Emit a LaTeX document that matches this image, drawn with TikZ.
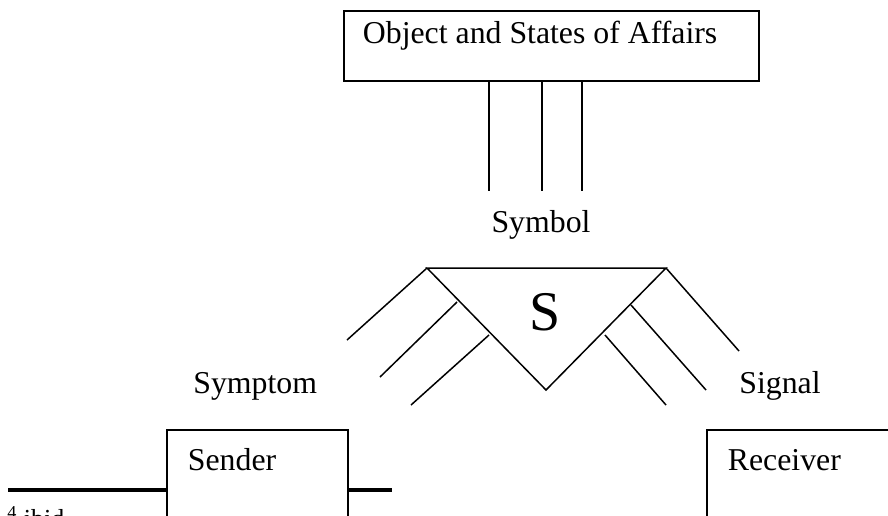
\documentclass[tikz,border=0pt]{standalone}
\usepackage{fontspec}
\setmainfont{Liberation Serif}
\tikzset{
	wordbox/.style={draw, line width=0.9pt, fill=white, anchor=north west, align=flush left,
		inner ysep=0pt, inner xsep=10.5pt, text height=20.5pt, text depth=45pt},
	strand/.style={line width=0.75pt},
	label/.style={anchor=base west, inner sep=0pt}
}
\begin{document}
\begin{tikzpicture}[x=0.5pt, y=-0.5pt, font=\fontsize{15.9}{19}\selectfont]
			\useasboundingbox (0, 0) rectangle (888, 515);
			\clip (0, 0) rectangle (888, 515);
			
			\node[draw, line width=0.9pt, anchor=north west, align=flush left, inner ysep=0pt,
				inner xsep=9.5pt, text width=188.5pt, text height=16.5pt, text depth=18.5pt]
				(affairs) at (343, 10) {Object and States of Affairs};
			
			\foreach \x in {489, 542, 582}
				\draw[strand] (affairs.south -| \x, 0) -- (\x, 191);
			
			\node[anchor=base, inner sep=0pt] (symbol) at (541, 232) {Symbol};
			
			\coordinate (tl) at (427, 268);
			\coordinate (tr) at (666, 268);
			\coordinate (bot) at (546, 390);
			\draw[strand] (tl) -- (tr) -- (bot) -- cycle;
			\node[anchor=base, inner sep=0pt, font=\fontsize{28}{32}\selectfont] (s) at (545, 330) {S};
			
			\draw[strand] (tl) -- (347, 340);
			\draw[strand] (457, 302) -- (380, 377);
			\draw[strand] (489, 335) -- (411, 405);
			
			\draw[strand] (tr) -- (739, 351);
			\draw[strand] (631, 305) -- (706, 390);
			\draw[strand] (605, 335) -- (666, 405);
			
			\node[label] (symptom) at (193, 393) {Symptom};
			\node[label] (signal) at (739, 393) {Signal};
			
			\draw[line width=2pt] (8, 490) -- (392, 490);
			
			\node[wordbox, text width=69.5pt] (sender) at (166, 429) {Sender};
			\node[wordbox, text width=86pt] (receiver) at (706, 429) {Receiver};
			
			\node[label, font=\fontsize{13}{15}\selectfont] (note) at (7, 527) {\textsuperscript{4} ibid};
		\end{tikzpicture}
\end{document}
